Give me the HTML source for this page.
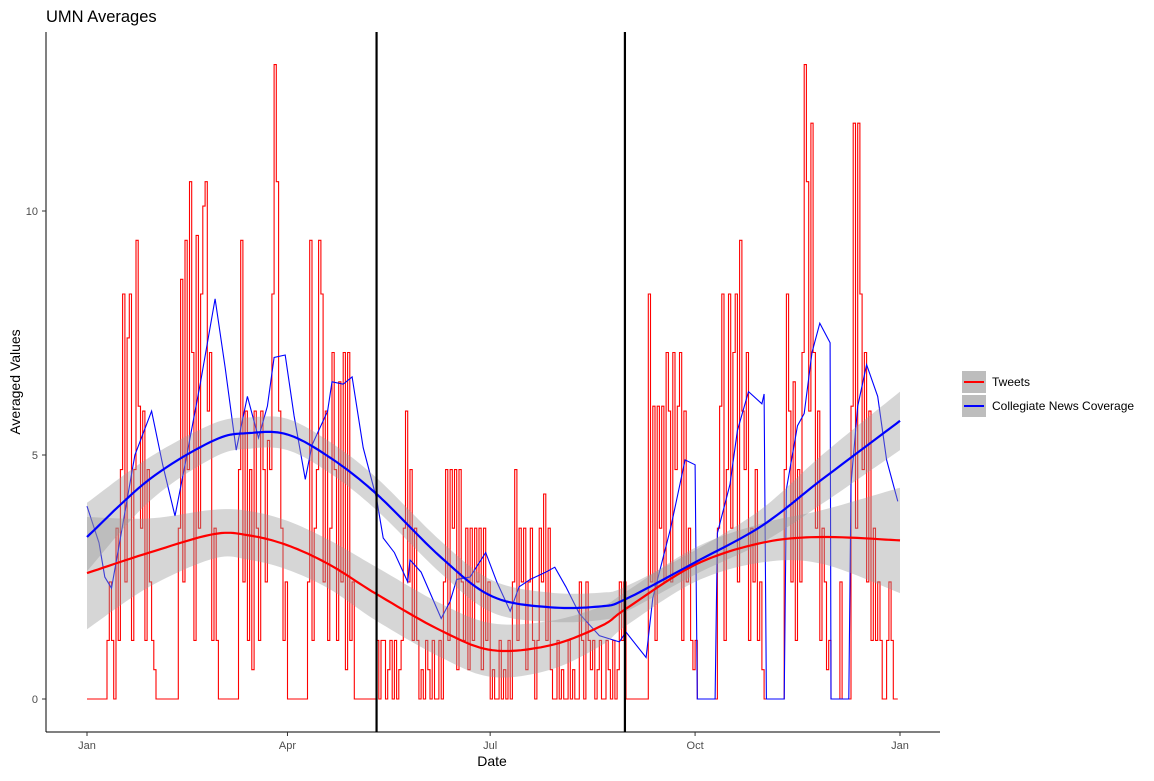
<!DOCTYPE html>
<html><head><meta charset="utf-8"><style>
body{margin:0;background:#fff;}
svg text{font-family:"Liberation Sans",Arial,sans-serif;}
</style></head><body>
<svg id="chart" width="1154" height="776" viewBox="0 0 1154 776" xmlns="http://www.w3.org/2000/svg">
<rect x="0" y="0" width="1154" height="776" fill="#fff"/>
<text x="46" y="22" font-size="16.5" fill="#000">UMN Averages</text>
<g id="plot"></g>
<line x1="46" y1="32" x2="46" y2="732" stroke="#000" stroke-width="1"/>
<line x1="46" y1="732" x2="940" y2="732" stroke="#000" stroke-width="1"/>
<g id="axes"></g>
<text x="492" y="766" font-size="14" text-anchor="middle" fill="#000">Date</text>
<text x="20" y="382" font-size="14" text-anchor="middle" fill="#000" transform="rotate(-90 20 382)">Averaged Values</text>
<g>
<g>
<rect x="962" y="371" width="24" height="22" fill="#bdbdbd"/>
<line x1="964" y1="382" x2="984" y2="382" stroke="#f00" stroke-width="2"/>
<text x="992" y="386" font-size="12" fill="#000">Tweets</text>
</g>
<g>
<rect x="962" y="395" width="24" height="22" fill="#bdbdbd"/>
<line x1="964" y1="406" x2="984" y2="406" stroke="#00f" stroke-width="2"/>
<text x="992" y="410" font-size="12" fill="#000">Collegiate News Coverage</text>
</g>
</g>
</svg>
<script>
const tweets=[0,0,0,0,0,0,0,0,0, 1.2,2.4,1.2,0,
3.5,1.2,4.7,8.3,2.4,7.4,8.3,1.2,4.7,9.4,6.0,3.5,5.9,1.2,4.7,2.4,1.2,0.6,
0,0,0,0,0,0,0,0,0,0,
3.5,8.6,2.4,9.4,4.7,10.6,7.1,1.2,9.5,3.5,8.3,10.1,10.6,5.9,7.1,1.2,3.5,1.2,
0,0,0,0,0,0,0,0,0,
4.7,9.4,2.4,5.9,1.2,4.7,0.6,5.9,3.5,1.2,5.9,4.7,2.4,5.3,4.7,8.3,13.0,10.6,5.9,3.5,1.2,2.4,
0,0,0,0,0,0,0,0,0,
2.4,9.4,1.2,3.5,4.7,9.4,8.3,2.4,5.9,1.2,3.5,7.1,4.7,1.2,6.5,2.4,7.1,0.6,7.1,1.2,2.4,
0,0,0,0,0,0,0,0,0,
0,1.2,0,1.2,1.2,0,0.6,1.2,0,1.2,0,0.6,
1.2,3.5,5.9,2.4,4.7,1.2,3.5,1.2,0,0.6,
0,1.2,0.6,0,1.2,0,0,1.2,0,
2.4,4.7,1.2,4.7,3.5,4.7,0.6,4.7,2.4,1.2,3.5,0.6,
3.5,1.2,3.5,2.4,3.5,0.6,3.5,1.2,2.4,0,0.6,
0,0,1.2,0,0.6,0,1.2,0,
2.4,4.7,1.2,3.5,2.4,3.5,0.6,2.4,3.5,1.2,0,1.2,3.5,2.4,4.2,1.2,3.5,0.6,
0,0,1.2,0,0.6,0,0,1.2,0,0.6,0,0,
2.4,1.2,0,2.4,1.2,0.6,1.2,0,0.6,1.2,0,0,1.2,0.6,0,1.2,0,0.6,2.4,1.2,
2.4,
0,0,0,0,0,0,0,0,0,0,
8.3,2.4,6.0,1.2,6.0,3.5,6.0,2.4,7.1,5.9,2.4,7.1,4.7,6.0,7.1,1.2,5.9,2.4,3.5,1.2,0.6,1.2,
0,0,0,0,0,0,0,0,0,
3.5,6.0,8.3,1.2,4.7,8.3,3.5,7.1,8.3,2.4,9.4,5.9,4.7,7.1,1.2,3.5,2.4,4.7,1.2,2.4,0.6,
0,0,0,0,0,0,0,0,0,
4.7,8.3,5.9,2.4,6.5,1.2,4.7,2.4,7.1,13.0,10.6,5.9,11.8,7.1,3.5,5.9,1.2,3.5,2.4,0.6,1.2,0,
0,0,0,2.4,0,0,0,0,
6.0,11.8,3.5,11.8,8.3,4.7,7.1,2.4,5.9,1.2,3.5,1.2,2.4,1.2,0,0,1.2,2.4,1.2,0,0,0];
const newsDays=[0,5.4,8,11,15,21.5,29,34,39.5,44,51,57.5,62,67,72,77,81,84,89,93,98,101,108,110,115,119,124,130,133,138,144,145,150,159,163,166,172,179,184,190,194,199,206,210,215,221,230,239,242,251,254,262,268.5,273,274,282,283,288.7,292,297,303,304,305,313,314,319,322,325.5,329,333.6,334,342,343,346,350,355,359,364];
const newsVals=[3.95,3.2,2.5,2.27,3.3,5.0,5.9,4.8,3.75,4.8,6.5,8.2,6.8,5.1,6.2,5.35,6.0,7.0,7.05,5.8,4.5,5.2,5.9,6.5,6.45,6.6,5.15,4.1,3.3,3.0,2.4,2.85,2.6,1.65,2.0,2.45,2.5,3.0,2.4,1.8,2.3,2.45,2.6,2.7,2.3,1.75,1.3,1.17,1.37,0.85,2.07,3.5,4.9,4.8,0,0,3.4,4.4,5.5,6.3,6.05,6.25,0,0,4.3,5.6,5.85,7.1,7.7,7.3,0,0,4.4,6.0,6.85,6.2,4.9,4.05];
const smoothDays=[0,28,57,73,90,109,130,159,182,208,231,242,273,303,330,365];
const tweetsSmooth=[2.58,3.0,3.38,3.35,3.15,2.75,2.15,1.4,1.0,1.1,1.5,1.85,2.75,3.2,3.32,3.25];
const tweetsSE=[1.15,0.7,0.5,0.5,0.5,0.5,0.55,0.55,0.55,0.5,0.4,0.35,0.35,0.4,0.55,1.08];
const newsSmooth=[3.32,4.5,5.3,5.45,5.42,4.95,4.2,2.9,2.1,1.88,1.9,2.05,2.8,3.55,4.5,5.7];
const newsSE=[0.7,0.45,0.35,0.32,0.32,0.32,0.33,0.33,0.33,0.3,0.28,0.26,0.25,0.35,0.5,0.6];
const yTicks=[0,5,10];
const xTickDays=[0,90,181,273,365];
const xTickLabels=["Jan","Apr","Jul","Oct","Jan"];
const vlineDays=[130,241.5];

const NS="http://www.w3.org/2000/svg";
const X=d=>87+d*(813/365);
const Y=v=>699-v*48.8;
const plot=document.getElementById('plot');
const axes=document.getElementById('axes');
function mk(tag,attrs,parent){const e=document.createElementNS(NS,tag);for(const k in attrs)e.setAttribute(k,attrs[k]);parent.appendChild(e);return e;}
function curve(days,vals,n){
  const pts=[];
  for(let i=0;i<days.length-1;i++){
    const p0=i>0?i-1:i,p3=i+2<days.length?i+2:i+1;
    for(let s=0;s<n;s++){const t=s/n;
      const cr=(a,b,c,d)=>0.5*((2*b)+(-a+c)*t+(2*a-5*b+4*c-d)*t*t+(-a+3*b-3*c+d)*t*t*t);
      pts.push([X(cr(days[p0],days[i],days[i+1],days[p3])),Y(cr(vals[p0],vals[i],vals[i+1],vals[p3]))]);}
  }
  pts.push([X(days[days.length-1]),Y(vals[vals.length-1])]);
  return pts;
}
const toPath=pts=>pts.map((p,i)=>(i?'L':'M')+p[0].toFixed(1)+','+p[1].toFixed(1)).join('');

// raw tweets as step line
let tp=[];
tweets.forEach((v,i)=>{
  if(i>0) tp.push([X(i),Y(tweets[i-1])]);
  tp.push([X(i),Y(v)]);
});
const rl=mk('path',{d:toPath(tp),fill:'none',stroke:'#f00','stroke-width':1.1},plot);


let np=newsDays.map((d,i)=>[X(d),Y(newsVals[i])]);
const bl=mk('path',{d:toPath(np),fill:'none',stroke:'#00f','stroke-width':1.1},plot);



function ribbon(sm,se,name){
  const up=curve(smoothDays,sm.map((v,i)=>v+se[i]),12);
  const lo=curve(smoothDays,sm.map((v,i)=>v-se[i]),12).reverse();
  const r=mk('path',{d:toPath(up.concat(lo))+'Z',fill:'#999','fill-opacity':0.4},plot);
  
  
}
ribbon(tweetsSmooth,tweetsSE,'tweets-confidence-band');
ribbon(newsSmooth,newsSE,'news-confidence-band');
const rs=mk('path',{d:toPath(curve(smoothDays,tweetsSmooth,12)),fill:'none',stroke:'#f00','stroke-width':2.2},plot);


const bs=mk('path',{d:toPath(curve(smoothDays,newsSmooth,12)),fill:'none',stroke:'#00f','stroke-width':2.2},plot);



vlineDays.forEach(d=>{
  const l=mk('line',{x1:X(d),x2:X(d),y1:32,y2:732,stroke:'#000','stroke-width':2.2},plot);
  
  
});
yTicks.forEach(v=>{
  mk('line',{x1:42,x2:46,y1:Y(v),y2:Y(v),stroke:'#333'},axes);
  const t=mk('text',{x:38,y:Y(v)+4,'font-size':11,'text-anchor':'end',fill:'#4d4d4d'},axes);
  t.textContent=v;
  
  
});
xTickDays.forEach((d,i)=>{
  mk('line',{x1:X(d),x2:X(d),y1:732,y2:736,stroke:'#333'},axes);
  const t=mk('text',{x:X(d),y:749,'font-size':11,'text-anchor':'middle',fill:'#4d4d4d'},axes);
  t.textContent=xTickLabels[i];
  
  
});
</script>
</body></html>
